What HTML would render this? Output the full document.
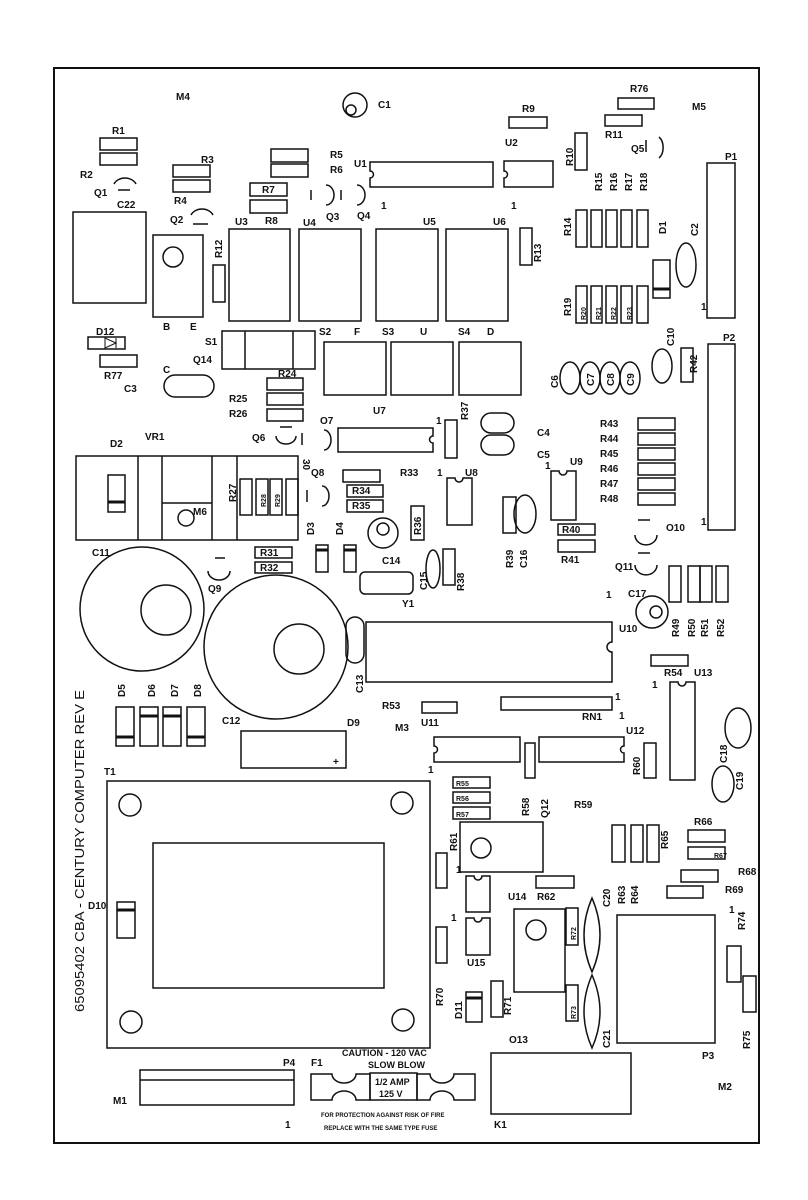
<!DOCTYPE html>
<html><head><meta charset="utf-8"><style>
html,body{margin:0;padding:0;background:#fff;}
svg{display:block;}
text{font-family:"Liberation Sans",sans-serif;font-size:10px;font-weight:bold;fill:#111;}
.s{font-size:7px;}
</style></head><body>
<svg width="808" height="1200" viewBox="0 0 808 1200" xmlns="http://www.w3.org/2000/svg">
<g fill="none" stroke="#111" stroke-width="1.5">
<rect x="54" y="68" width="705" height="1075" stroke-width="2"/>
<circle cx="355" cy="105" r="12"/><circle cx="351" cy="110" r="5"/>
<rect x="100" y="138" width="37" height="12"/><rect x="100" y="153" width="37" height="12"/>
<path d="M114 184 A12 10 0 0 1 136 184"/><line x1="118" y1="190" x2="130" y2="190"/>
<rect x="73" y="212" width="73" height="91"/>
<rect x="173" y="165" width="37" height="12"/><rect x="173" y="180" width="37" height="12"/>
<path d="M191 215 A12 10 0 0 1 213 215"/><line x1="193" y1="224" x2="208" y2="224"/>
<rect x="153" y="235" width="50" height="82"/><circle cx="173" cy="257" r="10"/>
<rect x="213" y="265" width="12" height="37"/>
<rect x="271" y="149" width="37" height="13"/><rect x="271" y="164" width="37" height="13"/>
<rect x="250" y="183" width="37" height="13"/><rect x="250" y="200" width="37" height="13"/>
<line x1="311" y1="190" x2="311" y2="200"/><path d="M326 185 A8 10 0 0 1 326 205"/>
<line x1="341" y1="190" x2="341" y2="200"/><path d="M357 185 A8 10 0 0 1 357 205"/>
<rect x="229" y="229" width="61" height="92"/><rect x="299" y="229" width="62" height="92"/>
<rect x="376" y="229" width="62" height="92"/><rect x="446" y="229" width="62" height="92"/>
<path d="M370 162 H493 V187 H370 V178 A3 3 0 0 0 370 171 Z"/>
<path d="M504 161 H553 V187 H504 V178 A3 3 0 0 0 504 171 Z"/>
<rect x="520" y="228" width="12" height="37"/>
<rect x="509" y="117" width="38" height="11"/><rect x="618" y="98" width="36" height="11"/>
<rect x="605" y="115" width="37" height="11"/><rect x="575" y="133" width="12" height="37"/>
<line x1="646" y1="140" x2="646" y2="152"/><path d="M659 137 A8 12 0 0 1 659 158"/>
<rect x="576" y="210" width="11" height="37"/><rect x="591" y="210" width="11" height="37"/><rect x="606" y="210" width="11" height="37"/><rect x="621" y="210" width="11" height="37"/><rect x="637" y="210" width="11" height="37"/>
<rect x="576" y="286" width="11" height="37"/><rect x="591" y="286" width="11" height="37"/><rect x="606" y="286" width="11" height="37"/><rect x="621" y="286" width="11" height="37"/><rect x="637" y="286" width="11" height="37"/>
<ellipse cx="686" cy="265" rx="10" ry="22"/>
<rect x="653" y="260" width="17" height="38"/><line x1="653" y1="289" x2="670" y2="289" stroke-width="3"/>
<rect x="707" y="163" width="28" height="155"/>
<rect x="222" y="331" width="93" height="38"/><line x1="245" y1="331" x2="245" y2="369"/><line x1="293" y1="331" x2="293" y2="369"/>
<rect x="324" y="342" width="62" height="53"/><rect x="391" y="342" width="62" height="53"/><rect x="459" y="342" width="62" height="53"/>
<rect x="88" y="337" width="37" height="12"/><path d="M105 338 L105 348 L116 343 Z M116 338 V348" stroke-width="1"/>
<rect x="100" y="355" width="37" height="12"/>
<rect x="164" y="375" width="50" height="22" rx="11"/>
<rect x="267" y="378" width="36" height="12"/><rect x="267" y="393" width="36" height="12"/><rect x="267" y="409" width="36" height="12"/>
<line x1="280" y1="427" x2="292" y2="427"/>
<path d="M276 436 A10 8 0 0 0 296 436"/><line x1="302" y1="433" x2="302" y2="445"/>
<path d="M324 430 A7 10 0 0 1 324 450"/>
<path d="M338 428 H433 V436 A3 3 0 0 0 433 443 V452 H338 Z"/>
<rect x="445" y="420" width="12" height="38"/>
<rect x="481" y="413" width="33" height="20" rx="10"/><rect x="481" y="435" width="33" height="20" rx="10"/>
<ellipse cx="570" cy="378" rx="10" ry="16"/><ellipse cx="590" cy="378" rx="10" ry="16"/><ellipse cx="610" cy="378" rx="10" ry="16"/><ellipse cx="630" cy="378" rx="10" ry="16"/>
<ellipse cx="662" cy="366" rx="10" ry="17"/><rect x="681" y="348" width="12" height="34"/>
<rect x="708" y="344" width="27" height="186"/>
<rect x="638" y="418" width="37" height="12"/><rect x="638" y="433" width="37" height="12"/><rect x="638" y="448" width="37" height="12"/><rect x="638" y="463" width="37" height="12"/><rect x="638" y="478" width="37" height="12"/><rect x="638" y="493" width="37" height="12"/>
<rect x="76" y="456" width="222" height="84"/>
<line x1="138" y1="456" x2="138" y2="540"/><line x1="162" y1="456" x2="162" y2="540"/><line x1="212" y1="456" x2="212" y2="540"/><line x1="237" y1="456" x2="237" y2="540"/>
<line x1="162" y1="503" x2="212" y2="503"/>
<rect x="108" y="475" width="17" height="37"/><line x1="108" y1="502" x2="125" y2="502" stroke-width="3"/>
<circle cx="186" cy="518" r="8"/>
<rect x="240" y="479" width="12" height="36"/><rect x="256" y="479" width="12" height="36"/><rect x="270" y="479" width="12" height="36"/><rect x="286" y="479" width="12" height="36"/>
<line x1="307" y1="490" x2="307" y2="502"/><path d="M322 486 A7 10 0 0 1 322 506"/>
<rect x="343" y="470" width="37" height="12"/><rect x="347" y="485" width="36" height="12"/><rect x="347" y="500" width="36" height="12"/>
<rect x="316" y="545" width="12" height="27"/><line x1="316" y1="550" x2="328" y2="550" stroke-width="3"/>
<rect x="344" y="545" width="12" height="27"/><line x1="344" y1="550" x2="356" y2="550" stroke-width="3"/>
<rect x="255" y="547" width="37" height="11"/><rect x="255" y="562" width="37" height="11"/>
<circle cx="383" cy="533" r="15"/><circle cx="383" cy="529" r="6"/>
<line x1="215" y1="558" x2="225" y2="558"/><path d="M208 571 A11 9 0 0 0 230 571"/>
<circle cx="142" cy="609" r="62"/><circle cx="166" cy="610" r="25"/>
<circle cx="276" cy="647" r="72"/><circle cx="299" cy="649" r="25"/>
<path d="M447 478 H455 A4 4 0 0 0 463 478 H472 V525 H447 Z"/>
<path d="M551 471 H559 A4 4 0 0 0 567 471 H576 V520 H551 Z"/>
<rect x="411" y="506" width="13" height="34"/>
<rect x="360" y="572" width="53" height="22" rx="5"/>
<ellipse cx="433" cy="569" rx="7" ry="19"/><rect x="443" y="549" width="12" height="36"/>
<rect x="503" y="497" width="13" height="36"/><ellipse cx="525" cy="514" rx="11" ry="19"/>
<rect x="558" y="524" width="37" height="11"/><rect x="558" y="540" width="37" height="12"/>
<line x1="638" y1="520" x2="650" y2="520"/><path d="M635 535 A10 9 0 0 0 657 535"/>
<line x1="638" y1="553" x2="650" y2="553"/><path d="M635 565 A10 9 0 0 0 657 565"/>
<rect x="669" y="566" width="12" height="36"/><rect x="688" y="566" width="12" height="36"/><rect x="700" y="566" width="12" height="36"/><rect x="716" y="566" width="12" height="36"/>
<circle cx="652" cy="612" r="16"/><circle cx="656" cy="612" r="6"/>
<path d="M366 622 H612 V642 A5 5 0 0 0 612 652 V682 H366 Z"/>
<rect x="346" y="617" width="18" height="46" rx="9"/>
<rect x="651" y="655" width="37" height="11"/>
<path d="M670 682 H678 A4 4 0 0 0 686 682 H695 V780 H670 Z"/>
<rect x="501" y="697" width="111" height="13"/>
<rect x="422" y="702" width="35" height="11"/>
<path d="M434 737 H520 V762 H434 V753 A3 3 0 0 0 434 746 Z"/>
<path d="M539 737 H624 V746 A3 3 0 0 0 624 753 V762 H539 Z"/>
<rect x="525" y="743" width="10" height="35"/><rect x="644" y="743" width="12" height="35"/>
<ellipse cx="738" cy="728" rx="13" ry="20"/><ellipse cx="723" cy="784" rx="11" ry="18"/>
<rect x="116" y="707" width="18" height="39"/><line x1="116" y1="737" x2="134" y2="737" stroke-width="3"/>
<rect x="140" y="707" width="18" height="39"/><line x1="140" y1="716" x2="158" y2="716" stroke-width="3"/>
<rect x="163" y="707" width="18" height="39"/><line x1="163" y1="716" x2="181" y2="716" stroke-width="3"/>
<rect x="187" y="707" width="18" height="39"/><line x1="187" y1="737" x2="205" y2="737" stroke-width="3"/>
<rect x="241" y="731" width="105" height="37"/>
<rect x="107" y="781" width="323" height="267"/>
<circle cx="130" cy="805" r="11"/><circle cx="402" cy="803" r="11"/><circle cx="131" cy="1022" r="11"/><circle cx="403" cy="1020" r="11"/>
<rect x="153" y="843" width="231" height="145"/>
<rect x="117" y="902" width="18" height="36"/><line x1="117" y1="910" x2="135" y2="910" stroke-width="3"/>
<rect x="453" y="777" width="37" height="11"/><rect x="453" y="792" width="37" height="11"/><rect x="453" y="807" width="37" height="12"/>
<rect x="460" y="822" width="83" height="50"/><circle cx="481" cy="848" r="10"/>
<rect x="436" y="853" width="11" height="35"/><rect x="436" y="927" width="11" height="36"/>
<path d="M466 876 H474 A4 4 0 0 0 482 876 H490 V912 H466 Z"/>
<path d="M466 918 H474 A4 4 0 0 0 482 918 H490 V955 H466 Z"/>
<rect x="536" y="876" width="38" height="12"/>
<rect x="466" y="992" width="16" height="30"/><line x1="466" y1="998" x2="482" y2="998" stroke-width="3"/>
<rect x="491" y="981" width="12" height="36"/>
<rect x="514" y="909" width="51" height="83"/><circle cx="536" cy="930" r="10"/>
<rect x="566" y="908" width="12" height="37"/><rect x="566" y="985" width="12" height="36"/>
<path d="M592 898 Q608 935 592 972 Q576 935 592 898 Z"/>
<path d="M592 975 Q608 1012 592 1048 Q576 1012 592 975 Z"/>
<rect x="612" y="825" width="13" height="37"/><rect x="631" y="825" width="12" height="37"/><rect x="647" y="825" width="12" height="37"/>
<rect x="688" y="830" width="37" height="12"/><rect x="688" y="847" width="37" height="12"/>
<rect x="681" y="870" width="37" height="12"/><rect x="667" y="886" width="36" height="12"/>
<rect x="617" y="915" width="98" height="128"/>
<rect x="727" y="946" width="14" height="36"/><rect x="743" y="976" width="13" height="36"/>
<rect x="491" y="1053" width="140" height="61"/>
<rect x="140" y="1070" width="154" height="35"/><line x1="140" y1="1080" x2="294" y2="1080"/>
<path d="M311 1074 H332 A12 9 0 0 0 356 1074 H370 V1100 H356 A12 9 0 0 0 332 1100 H311 Z"/>
<rect x="370" y="1073" width="47" height="27"/>
<path d="M417 1074 H430 A12 9 0 0 0 454 1074 H475 V1100 H454 A12 9 0 0 0 430 1100 H417 Z"/>
</g>
<g>
<text x="176" y="100">M4</text><text x="378" y="108">C1</text>
<text x="112" y="134">R1</text><text x="80" y="178">R2</text><text x="94" y="196">Q1</text><text x="117" y="208">C22</text>
<text x="201" y="163">R3</text><text x="174" y="204">R4</text><text x="170" y="223">Q2</text>
<text x="163" y="330">B</text><text x="190" y="330">E</text>
<text x="330" y="158">R5</text><text x="330" y="173">R6</text><text x="354" y="167">U1</text>
<text x="262" y="193">R7</text><text x="265" y="224">R8</text>
<text x="326" y="220">Q3</text><text x="357" y="219">Q4</text><text x="381" y="209">1</text>
<text x="235" y="225">U3</text><text x="303" y="226">U4</text><text x="423" y="225">U5</text><text x="493" y="225">U6</text>
<text x="505" y="146">U2</text><text x="511" y="209">1</text>
<text x="522" y="112">R9</text><text x="630" y="92">R76</text><text x="605" y="138">R11</text><text x="692" y="110">M5</text><text x="631" y="152">Q5</text>
<text x="725" y="160">P1</text><text x="701" y="310">1</text><text x="701" y="525">1</text><text x="723" y="341">P2</text>
<text x="319" y="335">S2</text><text x="354" y="335">F</text><text x="382" y="335">S3</text><text x="420" y="335">U</text><text x="458" y="335">S4</text><text x="487" y="335">D</text>
<text x="205" y="345">S1</text><text x="193" y="363">Q14</text><text x="163" y="373">C</text>
<text x="96" y="335">D12</text><text x="104" y="379">R77</text><text x="124" y="392">C3</text>
<text x="278" y="377">R24</text><text x="229" y="402">R25</text><text x="229" y="417">R26</text>
<text x="373" y="414">U7</text><text x="252" y="441">Q6</text><text x="320" y="424">O7</text><text x="436" y="424">1</text>
<text x="537" y="436">C4</text><text x="537" y="458">C5</text>
<text x="600" y="427">R43</text><text x="600" y="442">R44</text><text x="600" y="457">R45</text><text x="600" y="472">R46</text><text x="600" y="487">R47</text><text x="600" y="502">R48</text>
<text x="145" y="440">VR1</text><text x="110" y="447">D2</text><text x="193" y="515">M6</text>
<text x="311" y="476">Q8</text><text x="400" y="476">R33</text><text x="352" y="494">R34</text><text x="352" y="509">R35</text>
<text x="260" y="556">R31</text><text x="260" y="571">R32</text><text x="382" y="564">C14</text>
<text x="92" y="556">C11</text><text x="208" y="592">Q9</text>
<text x="465" y="476">U8</text><text x="437" y="476">1</text><text x="545" y="469">1</text><text x="570" y="465">U9</text>
<text x="562" y="533">R40</text><text x="561" y="563">R41</text>
<text x="666" y="531">O10</text><text x="615" y="570">Q11</text>
<text x="628" y="597">C17</text><text x="606" y="598">1</text><text x="619" y="632">U10</text>
<text x="402" y="607">Y1</text>
<text x="664" y="676">R54</text><text x="694" y="676">U13</text><text x="652" y="688">1</text>
<text x="582" y="720">RN1</text><text x="615" y="700">1</text><text x="619" y="719">1</text><text x="626" y="734">U12</text>
<text x="382" y="709">R53</text><text x="395" y="731">M3</text><text x="421" y="726">U11</text><text x="428" y="773">1</text>
<text x="222" y="724">C12</text><text x="347" y="726">D9</text><text x="333" y="765">+</text>
<text x="104" y="775">T1</text><text x="88" y="909">D10</text>
<text x="456" y="786" class="s">R55</text><text x="456" y="801" class="s">R56</text><text x="456" y="817" class="s">R57</text>
<text x="456" y="873">1</text><text x="451" y="921">1</text><text x="467" y="966">U15</text>
<text x="508" y="900">U14</text><text x="537" y="900">R62</text>
<text x="574" y="808">R59</text><text x="694" y="825">R66</text><text x="738" y="875">R68</text><text x="725" y="893">R69</text><text x="729" y="913">1</text>
<text x="702" y="1059">P3</text><text x="718" y="1090">M2</text><text x="509" y="1043">O13</text><text x="494" y="1128">K1</text>
<text x="283" y="1066">P4</text><text x="311" y="1066">F1</text><text x="113" y="1104">M1</text><text x="285" y="1128">1</text>
<text x="342" y="1056" class="s" style="font-size:9px">CAUTION - 120 VAC</text>
<text x="368" y="1068" class="s" style="font-size:9px">SLOW BLOW</text>
<text x="375" y="1085" class="s" style="font-size:9px">1/2 AMP</text>
<text x="379" y="1097" class="s" style="font-size:9px">125 V</text>
<text x="321" y="1117" class="s" style="font-size:6px">FOR PROTECTION AGAINST RISK OF FIRE</text>
<text x="324" y="1130" class="s" style="font-size:6px">REPLACE WITH THE SAME TYPE FUSE</text>
<g font-size="10">
<text transform="translate(222,258) rotate(-90)">R12</text>
<text transform="translate(541,262) rotate(-90)">R13</text>
<text transform="translate(573,166) rotate(-90)">R10</text>
<text transform="translate(602,191) rotate(-90)">R15</text>
<text transform="translate(617,191) rotate(-90)">R16</text>
<text transform="translate(632,191) rotate(-90)">R17</text>
<text transform="translate(647,191) rotate(-90)">R18</text>
<text transform="translate(571,236) rotate(-90)">R14</text>
<text transform="translate(666,234) rotate(-90)">D1</text>
<text transform="translate(698,236) rotate(-90)">C2</text>
<text transform="translate(571,316) rotate(-90)">R19</text>
<text transform="translate(586,320) rotate(-90)" class="s">R20</text>
<text transform="translate(601,320) rotate(-90)" class="s">R21</text>
<text transform="translate(616,320) rotate(-90)" class="s">R22</text>
<text transform="translate(632,320) rotate(-90)" class="s">R23</text>
<text transform="translate(674,346) rotate(-90)">C10</text>
<text transform="translate(697,373) rotate(-90)">R42</text>
<text transform="translate(558,388) rotate(-90)">C6</text>
<text transform="translate(594,386) rotate(-90)">C7</text>
<text transform="translate(614,386) rotate(-90)">C8</text>
<text transform="translate(634,386) rotate(-90)">C9</text>
<text transform="translate(468,420) rotate(-90)">R37</text>
<text transform="translate(303,459) rotate(90)">30</text>
<text transform="translate(236,502) rotate(-90)">R27</text>
<text transform="translate(266,507) rotate(-90)" class="s">R28</text>
<text transform="translate(280,507) rotate(-90)" class="s">R29</text>
<text transform="translate(314,535) rotate(-90)">D3</text>
<text transform="translate(343,535) rotate(-90)">D4</text>
<text transform="translate(421,535) rotate(-90)">R36</text>
<text transform="translate(427,590) rotate(-90)">C15</text>
<text transform="translate(464,591) rotate(-90)">R38</text>
<text transform="translate(513,568) rotate(-90)">R39</text>
<text transform="translate(527,568) rotate(-90)">C16</text>
<text transform="translate(679,637) rotate(-90)">R49</text>
<text transform="translate(695,637) rotate(-90)">R50</text>
<text transform="translate(708,637) rotate(-90)">R51</text>
<text transform="translate(724,637) rotate(-90)">R52</text>
<text transform="translate(363,693) rotate(-90)">C13</text>
<text transform="translate(125,697) rotate(-90)">D5</text>
<text transform="translate(155,697) rotate(-90)">D6</text>
<text transform="translate(178,697) rotate(-90)">D7</text>
<text transform="translate(201,697) rotate(-90)">D8</text>
<text transform="translate(640,775) rotate(-90)">R60</text>
<text transform="translate(727,763) rotate(-90)">C18</text>
<text transform="translate(743,790) rotate(-90)">C19</text>
<text transform="translate(529,816) rotate(-90)">R58</text>
<text transform="translate(548,818) rotate(-90)">Q12</text>
<text transform="translate(457,851) rotate(-90)">R61</text>
<text transform="translate(443,1006) rotate(-90)">R70</text>
<text transform="translate(462,1019) rotate(-90)">D11</text>
<text transform="translate(511,1015) rotate(-90)">R71</text>
<text transform="translate(576,940) rotate(-90)" class="s">R72</text>
<text transform="translate(576,1019) rotate(-90)" class="s">R73</text>
<text transform="translate(610,907) rotate(-90)">C20</text>
<text transform="translate(610,1048) rotate(-90)">C21</text>
<text transform="translate(625,904) rotate(-90)">R63</text>
<text transform="translate(638,904) rotate(-90)">R64</text>
<text transform="translate(668,849) rotate(-90)">R65</text>
<text transform="translate(745,930) rotate(-90)">R74</text>
<text transform="translate(750,1049) rotate(-90)">R75</text>
<text transform="translate(714,858)" class="s">R67</text>
<text transform="translate(84,1012) rotate(-90)" style="font-size:13px;font-weight:normal" textLength="322" lengthAdjust="spacingAndGlyphs">65095402   CBA  -  CENTURY COMPUTER REV E</text>
</g>
</g>
</svg>
</body></html>
